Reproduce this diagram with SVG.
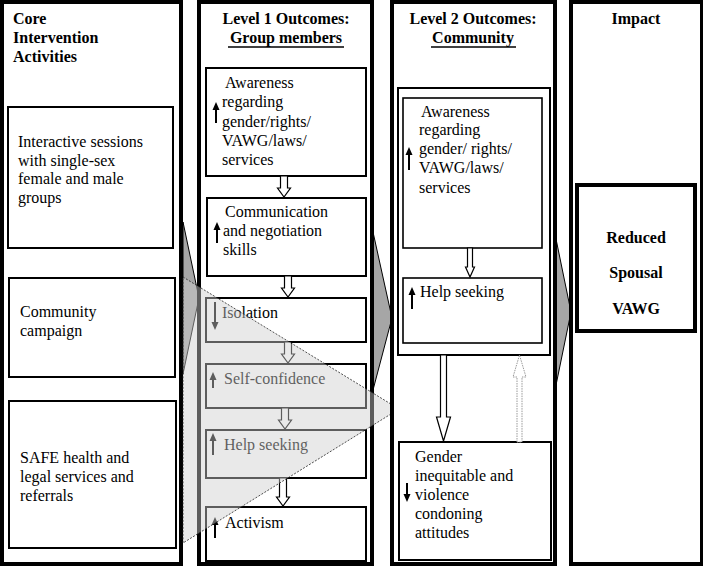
<svg xmlns="http://www.w3.org/2000/svg" width="703" height="568" viewBox="0 0 703 568" font-family="'Liberation Serif', 'Times New Roman', 'DejaVu Serif', serif">
<style>
text{font-family:"Liberation Serif","Times New Roman","DejaVu Serif",serif;font-size:16px;fill:#000}
.b{font-weight:bold}
.m{text-anchor:middle}
.col{fill:#fff;stroke:#000;stroke-width:4}
.bx{fill:#fff;stroke:#000;stroke-width:2}
.bx1{fill:#fff;stroke:#000;stroke-width:1.6}
.chev{fill:#a6a6a6;stroke:#000;stroke-width:1}
.sl{stroke:#000;stroke-width:2;fill:none}
.sh{fill:#000;stroke:none}
.ha{fill:#fff;stroke:#000;stroke-width:1.2}
.da{fill:#fff;stroke:#999;stroke-width:1;stroke-dasharray:1.5 1}
.tri{fill:#cfcfcf;fill-opacity:0.45;stroke:#222;stroke-width:0.8;stroke-dasharray:2 1.5}
.ul{stroke:#000;stroke-width:1.5}
</style>
<rect width="703" height="568" fill="#fff"/>
<g id="chevrons">
<polygon class="chev" points="183,222 199,298 183,374"/>
<polygon class="chev" points="373,232 392,318 373,390"/>
<polygon class="chev" points="555,234 571,312 555,390"/>
</g>
<g id="col-core">
<rect class="col" x="2" y="2" width="179" height="562"/>
<text class="b" x="13" y="24">Core</text>
<text class="b" x="13" y="43">Intervention</text>
<text class="b" x="13" y="62">Activities</text>
</g>
<g id="act-sessions">
<rect class="bx" x="8" y="107" width="165" height="141"/>
<text x="18" y="147">Interactive sessions</text>
<text x="18" y="166">with single-sex</text>
<text x="18" y="184">female and male</text>
<text x="18" y="203">groups</text>
</g>
<g id="act-campaign">
<rect class="bx" x="9" y="278" width="166" height="99"/>
<text x="20" y="317">Community</text>
<text x="20" y="336">campaign</text>
</g>
<g id="act-services">
<rect class="bx" x="9" y="401" width="167" height="147"/>
<text x="20" y="463">SAFE health and</text>
<text x="20" y="482">legal services and</text>
<text x="20" y="501">referrals</text>
</g>
<g id="col-level1">
<rect class="col" x="199" y="2" width="173" height="562"/>
<text class="b m" x="286" y="24">Level 1 Outcomes:</text>
<text class="b m" x="286" y="43">Group members</text>
<line class="ul" x1="228" y1="47" x2="344" y2="47"/>
</g>
<g id="l1-awareness">
<rect class="bx" x="206" y="68" width="160" height="108"/>
<text x="225" y="88">Awareness</text>
<text x="222" y="107">regarding</text>
<text x="222" y="127">gender/rights/</text>
<text x="222" y="146">VAWG/laws/</text>
<text x="222" y="165">services</text>
<line class="sl" x1="216" y1="123" x2="216" y2="108"/><polygon class="sh" points="212.5,110 216,102 219.5,110"/>
</g>
<g id="l1-communication">
<rect class="bx" x="207" y="198" width="159" height="78"/>
<text x="225" y="217">Communication</text>
<text x="223" y="236">and negotiation</text>
<text x="223" y="255">skills</text>
<line class="sl" x1="217" y1="243" x2="217" y2="228"/><polygon class="sh" points="213.5,230 217,222 220.5,230"/>
</g>
<g id="l1-isolation">
<rect class="bx" x="206" y="298" width="160" height="44"/>
<text x="222" y="318">Isolation</text>
<line class="sl" x1="215" y1="302" x2="215" y2="324"/><polygon class="sh" points="211.5,322 215,330 218.5,322"/>
</g>
<g id="l1-selfconfidence">
<rect class="bx" x="206" y="364" width="160" height="44"/>
<text x="224" y="384">Self-confidence</text>
<line class="sl" x1="213" y1="388" x2="213" y2="378"/><polygon class="sh" points="209.5,380 213,372 216.5,380"/>
</g>
<g id="l1-helpseeking">
<rect class="bx" x="206" y="430" width="160" height="48"/>
<text x="224" y="450">Help seeking</text>
<line class="sl" x1="213" y1="455" x2="213" y2="439"/><polygon class="sh" points="209.5,441 213,433 216.5,441"/>
</g>
<g id="l1-activism">
<rect class="bx" x="206" y="507" width="160" height="54"/>
<text x="225" y="528">Activism</text>
<line class="sl" x1="215" y1="538" x2="215" y2="523"/><polygon class="sh" points="211.5,525 215,517 218.5,525"/>
</g>
<g id="connectors-l1">
<path class="ha" d="M280.5,176 V188 H277.5 L284,197 L290.5,188 H287.5 V176 Z"/>
<path class="ha" d="M284.5,276 V288 H281.5 L288,297 L294.5,288 H291.5 V276 Z"/>
<path class="ha" d="M284.5,342 V354 H281.5 L288,363 L294.5,354 H291.5 V342 Z"/>
<path class="ha" d="M281.5,408 V420 H278.5 L285,429 L291.5,420 H288.5 V408 Z"/>
<path class="ha" d="M279.5,478 V497 H276.5 L283,506 L289.5,497 H286.5 V478 Z"/>
</g>
<g id="overlay">
<polygon class="tri" points="183,277 399,409 183,543"/>
</g>
<g id="col-level2">
<rect class="col" x="392" y="2" width="163" height="562"/>
<text class="b m" x="473" y="24">Level 2 Outcomes:</text>
<text class="b m" x="473" y="43">Community</text>
<line class="ul" x1="431" y1="47" x2="516" y2="47"/>
<rect class="bx" x="398" y="88" width="152" height="267"/>
</g>
<g id="l2-awareness">
<rect class="bx1" x="403" y="98" width="139" height="150"/>
<text x="421" y="117">Awareness</text>
<text x="419" y="135">regarding</text>
<text x="419" y="154">gender/ rights/</text>
<text x="419" y="173">VAWG/laws/</text>
<text x="419" y="193">services</text>
<line class="sl" x1="409" y1="170" x2="409" y2="153"/><polygon class="sh" points="405.5,155 409,147 412.5,155"/>
</g>
<g id="l2-helpseeking">
<rect class="bx1" x="403" y="278" width="139" height="65"/>
<text x="420" y="297">Help seeking</text>
<line class="sl" x1="412" y1="309" x2="412" y2="293"/><polygon class="sh" points="408.5,295 412,287 415.5,295"/>
</g>
<g id="l2-attitudes">
<rect class="bx" x="399" y="442" width="152" height="118"/>
<text x="415" y="462">Gender</text>
<text x="415" y="481">inequitable and</text>
<text x="415" y="500">violence</text>
<text x="415" y="519">condoning</text>
<text x="415" y="538">attitudes</text>
<line class="sl" x1="407" y1="483" x2="407" y2="496"/><polygon class="sh" points="403.5,494 407,502 410.5,494"/>
</g>
<g id="connectors-l2">
<path class="ha" d="M467.5,248 V267 H465.5 L470,277 L474.5,267 H472.5 V248 Z"/>
<path class="ha" d="M440.5,355 V417 H436.5 L443.5,441 L450.5,417 H446.5 V355 Z"/>
<path class="da" d="M517,442 V377 H513 L519.5,355 L526,377 H522 V442 Z"/>
</g>
<g id="col-impact">
<rect class="col" x="571" y="2" width="131" height="562"/>
<text class="b m" x="636" y="24">Impact</text>
</g>
<g id="impact-box">
<rect class="col" x="577" y="185" width="118" height="146"/>
<text class="b m" x="636" y="243">Reduced</text>
<text class="b m" x="636" y="278">Spousal</text>
<text class="b m" x="636" y="314">VAWG</text>
</g>
</svg>
